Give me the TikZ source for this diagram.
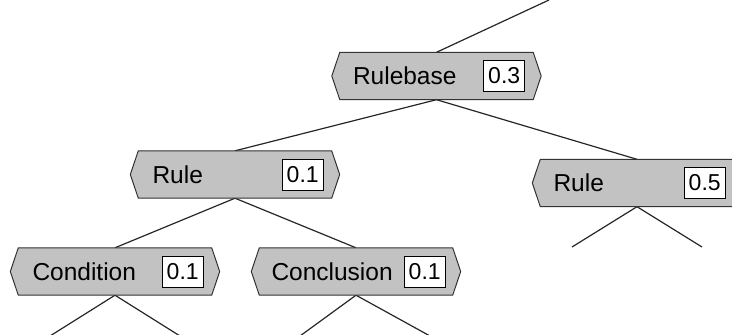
\documentclass[tikz,border=0pt]{standalone}
\usepackage{fontspec}
\setmainfont{Liberation Sans}
\begin{document}
\begin{tikzpicture}[x=1pt,y=-1pt,
  hexbody/.style={draw=none,minimum width=193pt,minimum height=47pt,inner sep=0pt},
  hexshape/.style={fill=hexgray,draw=black!80,line width=1pt,line join=miter},
  lbl/.style={anchor=west,inner sep=0pt,font=\fontsize{24.5pt}{28pt}\selectfont},
  valbox/.style={anchor=east,draw=black,fill=white,line width=1pt,minimum width=41pt,minimum height=31pt,inner sep=0pt,font=\fontsize{23pt}{26pt}\selectfont},
  edge/.style={draw=black!85,line width=1.2pt}]
\definecolor{hexgray}{HTML}{C2C2C2}
\useasboundingbox (0,0) rectangle (732,335);
\clip (0,0) rectangle (732,335);
% bodies
\node[hexbody] (rb) at (436.5,76) {};
\node[hexbody] (rl) at (235,174.5) {};
\node[hexbody] (cd) at (115,271.5) {};
\node[hexbody] (cc) at (356,271.5) {};
\node[hexbody] (rr) at (637,183) {};
% free ends
\coordinate (top) at (549,0);
\coordinate (cd1) at (50,336);
\coordinate (cd2) at (180,336);
\coordinate (cc1) at (300,336);
\coordinate (cc2) at (430,336);
\coordinate (rr1) at (572,247);
\coordinate (rr2) at (702,247);
% connectors
\draw[edge] (rb.north) -- (top);
\draw[edge] (rb.south) -- (rl.north);
\draw[edge] (rb.south) -- (rr.north);
\draw[edge] (rl.south) -- (cd.north);
\draw[edge] (rl.south) -- (cc.north);
\draw[edge] (cd.south) -- (cd1);
\draw[edge] (cd.south) -- (cd2);
\draw[edge] (cc.south) -- (cc1);
\draw[edge] (cc.south) -- (cc2);
\draw[edge] (rr.south) -- (rr1);
\draw[edge] (rr.south) -- (rr2);
% hexagons
\foreach \n in {rb,rl,cd,cc,rr}{
  \path[hexshape] (\n.north west) -- (\n.north east) -- ([xshift=8pt]\n.east) -- (\n.south east) -- (\n.south west) -- ([xshift=-8pt]\n.west) -- cycle;
}
% labels
\node[lbl] (rbt) at ([xshift=13pt]rb.west) {Rulebase};
\node[valbox] (rbv) at ([xshift=-8pt]rb.east) {0.3};
\node[lbl] (rlt) at ([xshift=14pt]rl.west) {Rule};
\node[valbox] (rlv) at ([xshift=-8pt]rl.east) {0.1};
\node[lbl] (cdt) at ([xshift=14pt]cd.west) {Condition};
\node[valbox] (cdv) at ([xshift=-8pt]cd.east) {0.1};
\node[lbl] (cct) at ([xshift=12pt]cc.west) {Conclusion};
\node[valbox] (ccv) at ([xshift=-7pt]cc.east) {0.1};
\node[lbl] (rrt) at ([xshift=13pt]rr.west) {Rule};
\node[valbox] (rrv) at ([xshift=-8pt]rr.east) {0.5};
\end{tikzpicture}
\end{document}
